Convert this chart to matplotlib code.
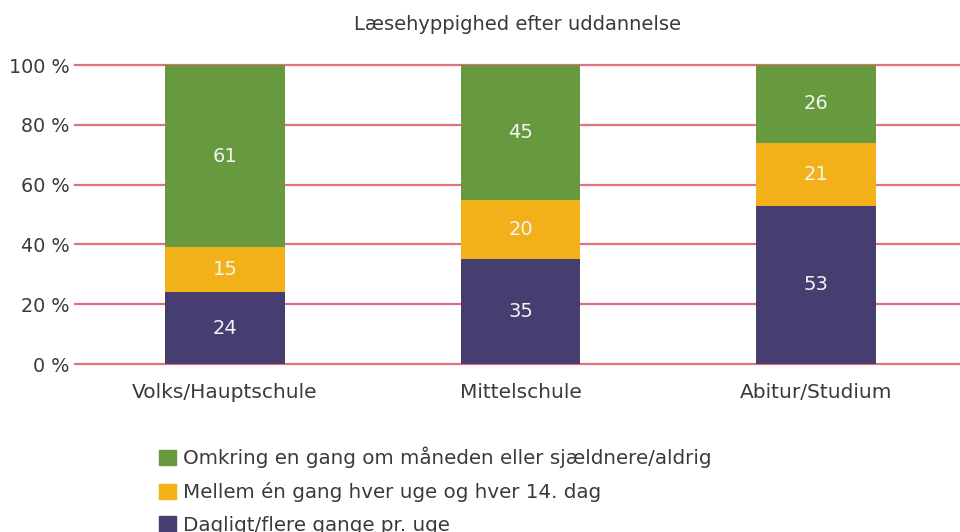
import matplotlib.pyplot as plt
from matplotlib.patches import Patch

# data
categories = ["Volks/Hauptschule", "Mittelschule", "Abitur/Studium"]
daily = [24, 35, 53]
biweekly = [15, 20, 21]
monthly = [61, 45, 26]
series_labels = [
    "Omkring en gang om måneden eller sjældnere/aldrig",
    "Mellem én gang hver uge og hver 14. dag",
    "Dagligt/flere gange pr. uge",
]
yticks = [0, 20, 40, 60, 80, 100]
title = "Læsehyppighed efter uddannelse"

c_daily = "#463d71"
c_biweekly = "#f2b118"
c_monthly = "#679a3e"
grid_c = "#e3707f"
text_c = "#3a3a3a"

plt.rcParams["font.family"] = ["DejaVu Sans"]

fig = plt.figure(figsize=(9.6, 5.32), dpi=100)
ax = fig.add_axes([75 / 960, 1 - 364 / 532, (960 - 75) / 960, (364 - 65) / 532])

x = list(range(len(categories)))
w = 0.405
bottoms2 = daily
bottoms3 = [a + b for a, b in zip(daily, biweekly)]

# horizontal grid lines, drawn in full also at 0 and 100
for yv in yticks:
    ax.axhline(yv, color=grid_c, lw=1.6, zorder=0, clip_on=False)

ax.bar(x, daily, w, color=c_daily, zorder=2)
ax.bar(x, biweekly, w, bottom=bottoms2, color=c_biweekly, zorder=2)
ax.bar(x, monthly, w, bottom=bottoms3, color=c_monthly, zorder=2)

for vals, bots in [(daily, [0] * 3), (biweekly, bottoms2), (monthly, bottoms3)]:
    for xi, v, b in zip(x, vals, bots):
        ax.text(xi, b + v / 2, str(v), ha="center", va="center",
                color="#f4f4f4", fontsize=14, zorder=3)

ax.set_xlim(-0.507, 2.486)
ax.set_ylim(0, 100)
ax.set_yticks(yticks)
ax.set_yticklabels([f"{v} %" for v in yticks], fontsize=13.8, color=text_c)
ax.set_xticks(x)
ax.set_xticklabels(categories, fontsize=14.5, color=text_c)
ax.tick_params(length=0, pad=4)
ax.tick_params(axis="x", pad=14)
for s in ax.spines.values():
    s.set_visible(False)
ax.set_title(title, fontsize=14, color=text_c, pad=25)

handles = [Patch(color=c_monthly), Patch(color=c_biweekly), Patch(color=c_daily)]
fig.legend(handles, series_labels, loc="upper left", bbox_to_anchor=(151 / 960, 1 - 439 / 532),
           frameon=False, fontsize=14.3, labelcolor=text_c, handlelength=0.85, handleheight=0.85,
           handletextpad=0.35, labelspacing=0.7, borderaxespad=0)

fig.savefig("out.png", dpi=100)
